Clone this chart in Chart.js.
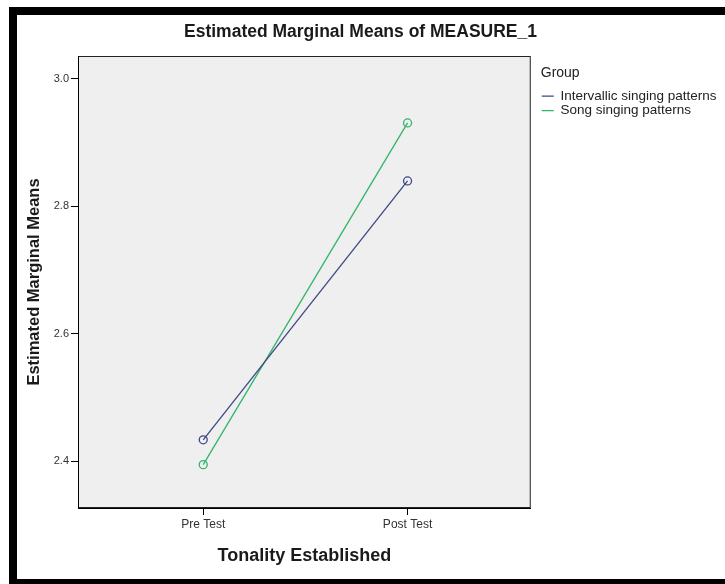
<!DOCTYPE html>
<html>
<head>
<meta charset="utf-8">
<title>Estimated Marginal Means of MEASURE_1</title>
<script src="https://cdn.jsdelivr.net/npm/chart.js@4"></script>
<style>
  html, body { margin: 0; padding: 0; background: #fff; }
</style>
</head>
<body>
<canvas id="myChart" width="725" height="584"></canvas>
<script>
// values
const categories = ['Pre Test', 'Post Test'];
const groupNames = ['Intervallic singing patterns', 'Song singing patterns'];
const intervallicMeans = [2.434, 2.840];
const songMeans = [2.395, 2.931];
const yTickValues = [2.4, 2.6, 2.8, 3.0];

Chart.defaults.font.family = '"Liberation Sans", Arial, sans-serif';
Chart.defaults.color = '#333';

// white page, black frame, grey plot box
const backdrop = {
  id: 'backdrop',
  beforeDraw(chart) {
    const {ctx, chartArea: a, width, height} = chart;
    ctx.save();
    ctx.fillStyle = '#fff';
    ctx.fillRect(0, 0, width, height);
    ctx.fillStyle = '#000';
    ctx.fillRect(9, 7, width - 9, 8);
    ctx.fillRect(9, 7, 8, height - 7);
    ctx.fillRect(9, 579, width - 9, 5);
    ctx.fillStyle = '#efefef';
    ctx.fillRect(a.left, a.top, a.width, a.height);
    ctx.strokeStyle = '#222';
    ctx.lineWidth = 1;
    ctx.strokeRect(a.left + 0.5, a.top + 0.5, a.width - 1, a.height - 1);
    ctx.restore();
  },
  afterLayout(chart) {
    // legend starts level with the plot box top, a little right of it,
    // and may run to the page edge
    const lg = chart.legend;
    const dy = chart.chartArea.top - lg.top;
    lg.top += dy;
    lg.bottom += dy;
    lg.left += 10;
    lg.right = chart.width;
  }
};

const toPoints = vals => vals.map((v, i) => ({x: i + 1, y: v}));

const ctx = document.getElementById('myChart');

new Chart(ctx, {
  type: 'line',
  data: {
    datasets: [{
      label: groupNames[0],
      data: toPoints(intervallicMeans),
      borderColor: '#3d4785',
      pointBorderColor: '#3d4785',
      borderWidth: 1.3
    }, {
      label: groupNames[1],
      data: toPoints(songMeans),
      borderColor: '#2fb56c',
      pointBorderColor: '#2fb56c',
      borderWidth: 1.3
    }]
  },
  options: {
    responsive: false,
    animation: false,
    layout: { padding: { top: 16, left: 20, right: 24, bottom: 5 } },
    elements: {
      line: { tension: 0 },
      point: { radius: 4, borderWidth: 1, backgroundColor: 'rgba(0,0,0,0)', pointStyle: 'circle' }
    },
    plugins: {
      tooltip: { enabled: false },
      title: {
        display: true,
        text: 'Estimated Marginal Means of MEASURE_1',
        color: '#1a1a1a',
        font: { size: 17.5, weight: 'bold' },
        padding: { top: 5.5, bottom: 13.5 }
      },
      legend: {
        position: 'right',
        align: 'start',
        title: {
          display: true,
          text: 'Group',
          position: 'start',
          color: '#222',
          font: { size: 14 },
          padding: { top: 10.5, bottom: 5.1 }
        },
        labels: {
          usePointStyle: true,
          pointStyle: 'line',
          pointStyleWidth: 12,
          boxHeight: 13.5,
          padding: 1,
          color: '#222',
          font: { size: 13.5 }
        }
      }
    },
    scales: {
      x: {
        type: 'linear',
        min: 0.387,
        max: 2.603,
        afterFit: s => { s.height = 71; },
        afterBuildTicks: s => { s.ticks = categories.map((c, i) => ({ value: i + 1 })); },
        ticks: {
          callback: v => categories[v - 1],
          font: { size: 12 },
          padding: 2
        },
        grid: { drawOnChartArea: false, tickLength: 7, color: '#000' },
        border: { display: true, color: '#000' },
        title: {
          display: true,
          text: 'Tonality Established',
          color: '#1a1a1a',
          font: { size: 18, weight: 'bold' },
          padding: { top: 4, bottom: 12 }
        }
      },
      y: {
        min: 2.327,
        max: 3.036,
        afterFit: s => { s.width = 58; },
        afterBuildTicks: s => { s.ticks = yTickValues.map(v => ({ value: v })); },
        ticks: {
          callback: v => v.toFixed(1),
          font: { size: 11 },
          padding: 2
        },
        grid: { drawOnChartArea: false, tickLength: 7, color: '#000' },
        border: { display: true, color: '#000' },
        title: {
          display: true,
          text: 'Estimated Marginal Means',
          color: '#1a1a1a',
          font: { size: 16.5, weight: 'bold' },
          padding: { top: 5, bottom: 0 }
        }
      }
    }
  },
  plugins: [backdrop]
});
</script>
</body>
</html>
